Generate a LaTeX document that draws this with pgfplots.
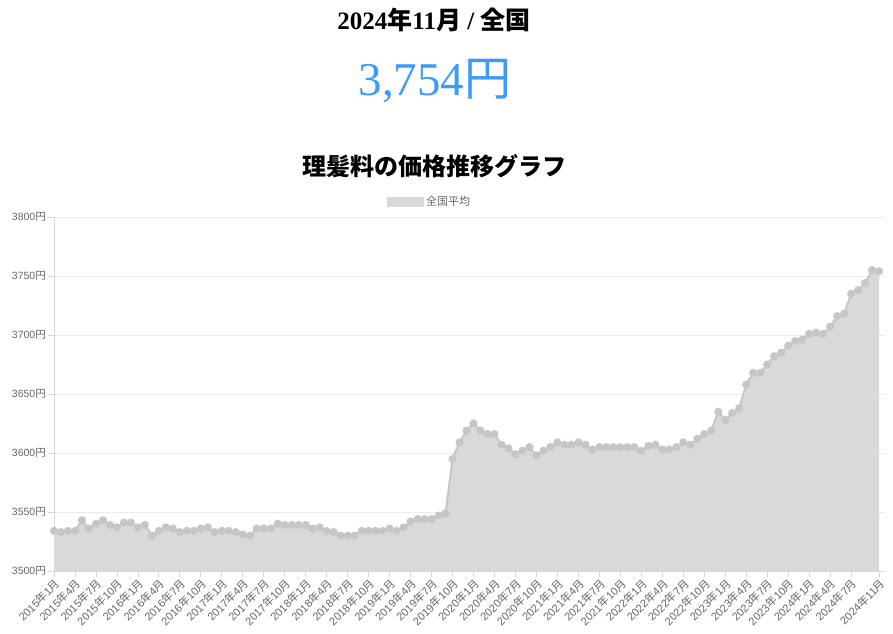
\documentclass[border=0pt]{standalone}
\usepackage{fontspec}
\usepackage{pgfplots}
\usepackage{pgfplotstable}
\pgfplotsset{compat=1.18}
\setmainfont{Liberation Serif}
\newfontfamily\cjk{Noto Sans CJK JP}
\newfontfamily\sans{Liberation Sans}
\definecolor{tickgray}{RGB}{102,102,102}
\definecolor{gridgray}{RGB}{235,235,235}
\definecolor{axisgray}{RGB}{215,215,215}
\definecolor{areagray}{RGB}{217,217,217}
\definecolor{linegray}{RGB}{198,198,198}
\definecolor{blueval}{RGB}{60,155,250}
\newcommand{\ym}[2]{#1{\cjk 年}#2{\cjk 月}}
\newcommand{\yen}[1]{#1{\cjk 円}}
\pgfplotstableread{
i v
0 3534
1 3533
2 3534
3 3534
4 3543
5 3536
6 3540
7 3543
8 3539
9 3537
10 3541
11 3541
12 3537
13 3539
14 3530
15 3534
16 3537
17 3536
18 3533
19 3534
20 3534
21 3536
22 3537
23 3533
24 3534
25 3534
26 3533
27 3531
28 3530
29 3536
30 3536
31 3536
32 3540
33 3539
34 3539
35 3539
36 3539
37 3536
38 3537
39 3534
40 3533
41 3530
42 3530
43 3530
44 3534
45 3534
46 3534
47 3534
48 3536
49 3534
50 3537
51 3542
52 3544
53 3544
54 3544
55 3547
56 3549
57 3595
58 3609
59 3619
60 3625
61 3619
62 3616
63 3616
64 3607
65 3604
66 3599
67 3602
68 3605
69 3598
70 3602
71 3605
72 3609
73 3607
74 3607
75 3609
76 3607
77 3603
78 3605
79 3605
80 3605
81 3605
82 3605
83 3605
84 3602
85 3606
86 3607
87 3603
88 3603
89 3605
90 3609
91 3607
92 3612
93 3616
94 3619
95 3635
96 3628
97 3634
98 3638
99 3658
100 3668
101 3668
102 3675
103 3682
104 3685
105 3691
106 3695
107 3696
108 3701
109 3702
110 3701
111 3707
112 3716
113 3718
114 3735
115 3738
116 3744
117 3755
118 3754
}\datatable
\begin{document}
\begin{tikzpicture}[x=1bp,y=1bp]
\begin{axis}[
  at={(54bp,63bp)}, anchor=south west,
  scale only axis, width=831bp, height=354bp,
  xmin=0, xmax=118.85, ymin=3500, ymax=3800,
  ytick={3500,3550,3600,3650,3700,3750,3800},
  yticklabels={\yen{3500},\yen{3550},\yen{3600},\yen{3650},\yen{3700},\yen{3750},\yen{3800}},
  xtick={0,3,...,114,118},
  xticklabels={\ym{2015}{1},\ym{2015}{4},\ym{2015}{7},\ym{2015}{10},
    \ym{2016}{1},\ym{2016}{4},\ym{2016}{7},\ym{2016}{10},
    \ym{2017}{1},\ym{2017}{4},\ym{2017}{7},\ym{2017}{10},
    \ym{2018}{1},\ym{2018}{4},\ym{2018}{7},\ym{2018}{10},
    \ym{2019}{1},\ym{2019}{4},\ym{2019}{7},\ym{2019}{10},
    \ym{2020}{1},\ym{2020}{4},\ym{2020}{7},\ym{2020}{10},
    \ym{2021}{1},\ym{2021}{4},\ym{2021}{7},\ym{2021}{10},
    \ym{2022}{1},\ym{2022}{4},\ym{2022}{7},\ym{2022}{10},
    \ym{2023}{1},\ym{2023}{4},\ym{2023}{7},\ym{2023}{10},
    \ym{2024}{1},\ym{2024}{4},\ym{2024}{7},\ym{2024}{11}},
  ymajorgrids,
  major grid style={gridgray, line width=0.8bp},
  axis x line*=bottom, axis y line*=left,
  axis line style={axisgray, line width=0.8bp, -},
  tick style={axisgray, line width=0.8bp},
  major tick length=6bp, tick align=outside,
  yticklabel style={font=\sans\fontsize{10.5bp}{12bp}\selectfont, text=tickgray, inner sep=1bp, xshift=-1bp},
  xticklabel style={font=\sans\fontsize{11bp}{12bp}\selectfont, text=tickgray, rotate=45, anchor=north east, inner sep=0.5bp},
  legend style={at={(0.452,1)}, anchor=center, yshift=15bp, draw=none, fill=none,
    font=\cjk\fontsize{11bp}{12bp}\selectfont, text=tickgray, inner sep=0pt},
]
\addplot[fill=areagray, draw=none,
  legend image code/.code={\fill[areagray] (0bp,-5bp) rectangle (37bp,5bp);}]
  table[x=i, y=v] {\datatable} \closedcycle;
\addlegendentry{全国平均}
\addplot[linegray, line width=2bp, mark=*, mark size=3bp,
  mark options={fill=linegray, draw=none}, forget plot]
  table[x=i, y=v] {\datatable};
\end{axis}
\node[font=\fontsize{25bp}{28bp}\selectfont\bfseries] at (434,614) {2024{\cjk\bfseries 年}11{\cjk\bfseries 月} / {\cjk\bfseries 全国}};
\node[font=\fontsize{47bp}{50bp}\selectfont, text=blueval] at (435,553) {3,754{\cjk 円}};
\node[font=\cjk\bfseries\fontsize{24bp}{28bp}\selectfont] at (434,468) {理髪料の価格推移グラフ};
\pgfresetboundingbox
\path (0,0) rectangle (893,634);
\end{tikzpicture}
\end{document}
